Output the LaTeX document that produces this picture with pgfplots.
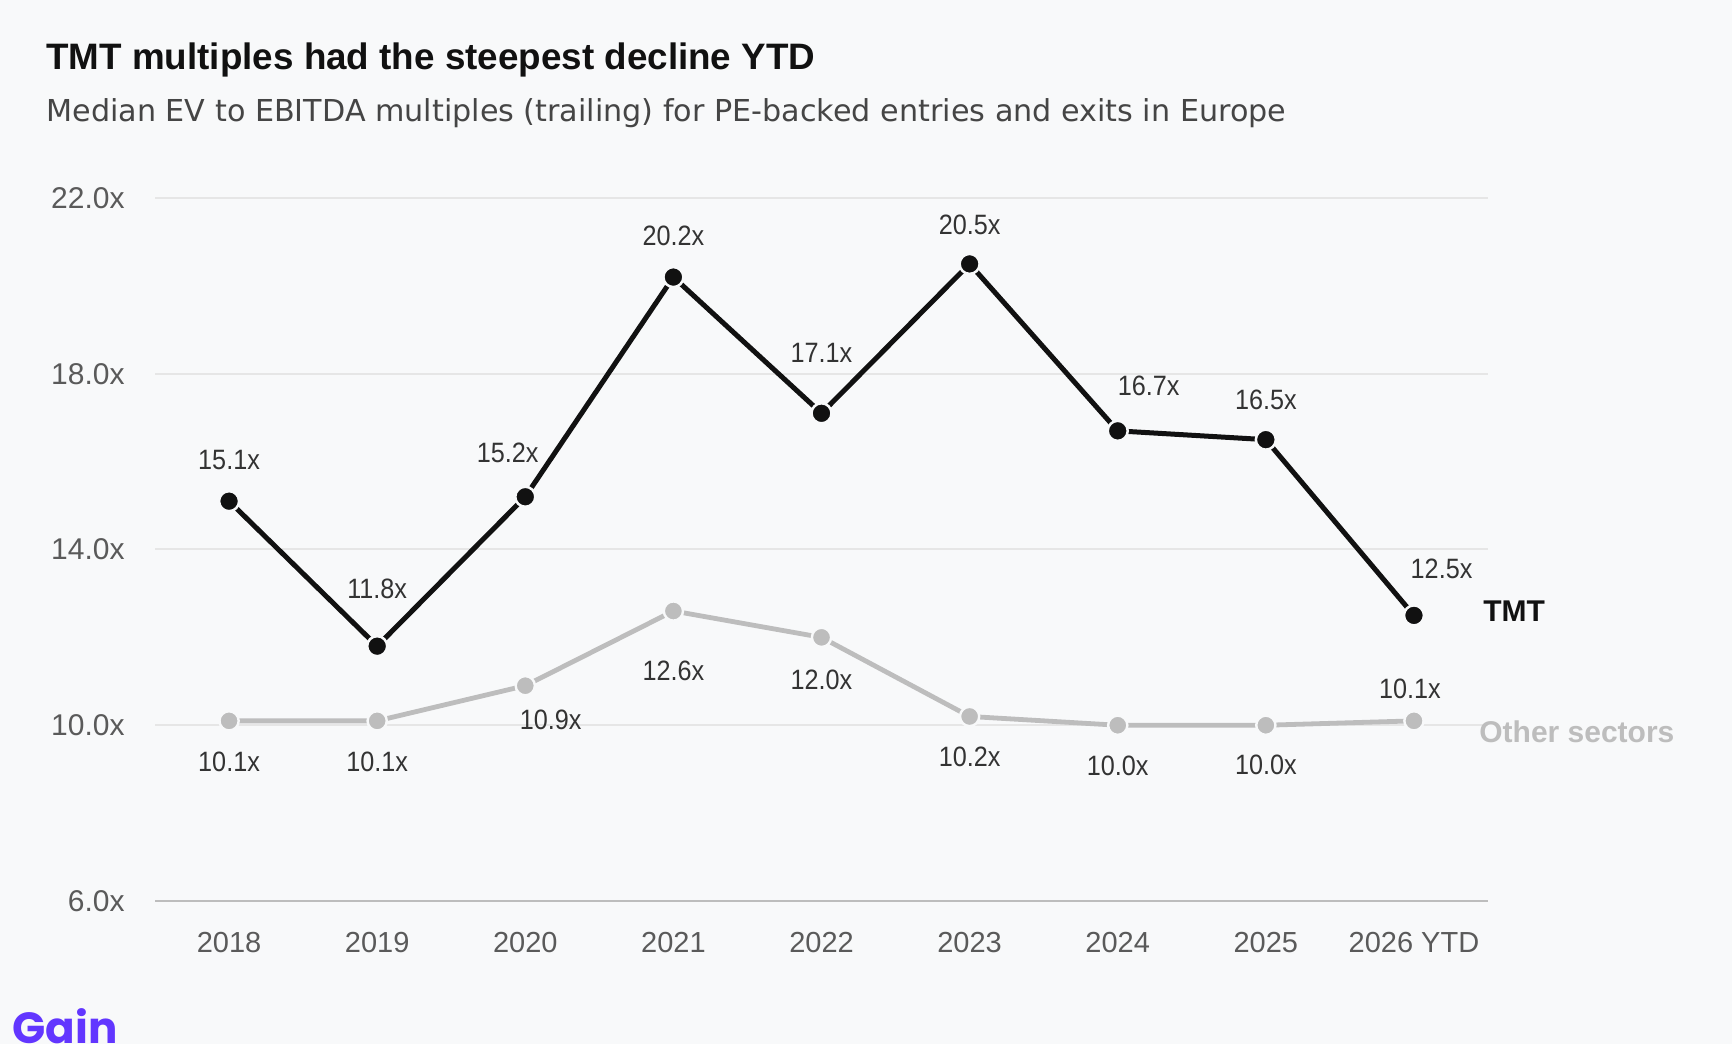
\documentclass[border=0pt]{standalone}
\usepackage{fontspec}
\setmainfont{Liberation Sans}[FakeStretch=0.9]
\newfontfamily\plainfont{Liberation Sans}
\newfontfamily\subfont{DejaVu Sans}
\newfontfamily\gainfont{Poppins}
\usepackage{pgfplots}
\pgfplotsset{compat=1.18}
\usepackage{pgfplotstable}
\definecolor{bg}{HTML}{F8F9FA}
\definecolor{titlec}{HTML}{111111}
\definecolor{subc}{HTML}{454545}
\definecolor{tickc}{HTML}{5A5A5A}
\definecolor{labc}{HTML}{333333}
\definecolor{gridc}{HTML}{E6E6E6}
\definecolor{axisc}{HTML}{BDBDBD}
\definecolor{tmtc}{HTML}{111111}
\definecolor{othc}{HTML}{BDBDBD}
\definecolor{gainc}{HTML}{6236FF}

\pgfplotstableread{
x y label dx dy
0 15.1 15.1x 0 20.5
1 11.8 11.8x 0 28.7
2 15.2 15.2x -8.8 22
3 20.2 20.2x 0 20.5
4 17.1 17.1x 0 30.4
5 20.5 20.5x 0 19.3
6 16.7 16.7x 15.5 22.6
7 16.5 16.5x 0 19.9
8 12.5 12.5x 13.8 23.2
}\tmt

\pgfplotstableread{
x y label dx dy
0 10.1 10.1x 0 -20.4
1 10.1 10.1x 0 -20.4
2 10.9 10.9x 12.7 -17.1
3 12.6 12.6x 0 -29.8
4 12.0 12.0x 0 -21
5 10.2 10.2x 0 -20.4
6 10.0 10.0x 0 -20.4
7 10.0 10.0x 0 -20
8 10.1 10.1x -2 16
}\oth

\begin{document}
\begin{tikzpicture}
\useasboundingbox (0,0) rectangle (866bp,522bp);
\fill[bg] (0,0) rectangle (866bp,522bp);
\node[anchor=base west, inner sep=0, font=\plainfont\bfseries\fontsize{18.4bp}{21bp}\selectfont, text=titlec] at (23bp,487bp) {TMT multiples had the steepest decline YTD};
\node[anchor=base west, inner sep=0, font=\subfont\fontsize{15.1bp}{18bp}\selectfont, text=subc] at (23bp,461bp) {Median EV to EBITDA multiples (trailing) for PE-backed entries and exits in Europe};
\begin{axis}[
  at={(77.5bp,71.5bp)}, anchor=south west,
  scale only axis, width=666.5bp, height=351.5bp,
  xmin=-0.5, xmax=8.5, ymin=6, ymax=22,
  clip=false,
  axis line style={draw=none},
  major tick length=0pt,
  xtick={0,...,8},
  xticklabels={2018,2019,2020,2021,2022,2023,2024,2025,2026 YTD},
  xticklabel style={anchor=north, inner sep=0pt, yshift=-15.3bp, font=\plainfont\fontsize{14.5bp}{17bp}\selectfont, text=tickc},
  ytick={10,14,18,22},
  yticklabels={10.0x,14.0x,18.0x,22.0x},
  extra y ticks={6},
  extra y tick labels={6.0x},
  extra y tick style={grid style={axisc, line width=1.2bp}},
  yticklabel style={anchor=east, inner sep=0pt, xshift=-15bp, font=\plainfont\fontsize{15bp}{17bp}\selectfont, text=tickc},
  ymajorgrids,
  grid style={gridc, line width=1bp},
  nodes near coords={\pgfplotspointmeta},
  point meta=explicit symbolic,
  visualization depends on={\thisrow{dx} \as \dx},
  visualization depends on={\thisrow{dy} \as \dy},
  nodes near coords style={anchor=center, inner sep=0pt, xshift=\dx bp, yshift=\dy bp, font=\fontsize{14bp}{16bp}\selectfont, text=labc},
]
\addplot[othc, line width=2.4bp, line join=round, mark=*, mark size=4.8bp, mark options={fill=othc, draw=bg, line width=1.2bp}] table[x=x, y=y, meta=label] {\oth};
\addplot[tmtc, line width=2.5bp, line join=round, mark=*, mark size=5bp, mark options={fill=tmtc, draw=bg, line width=1.25bp}] table[x=x, y=y, meta=label] {\tmt};
\node[anchor=west, inner sep=0pt, xshift=34.5bp, yshift=2bp, font=\plainfont\bfseries\fontsize{15bp}{17bp}\selectfont, text=tmtc] at (axis cs:8,12.5) {TMT};
\node[anchor=west, inner sep=0pt, xshift=32.5bp, yshift=-5.5bp, font=\plainfont\bfseries\fontsize{15bp}{17bp}\selectfont, text=othc] at (axis cs:8,10.1) {Other sectors};
\end{axis}
\node[anchor=base west, inner sep=0, font=\gainfont\bfseries\fontsize{21.8bp}{23bp}\selectfont, text=gainc] at (6bp,0.5bp) {Gain};
\end{tikzpicture}
\end{document}
